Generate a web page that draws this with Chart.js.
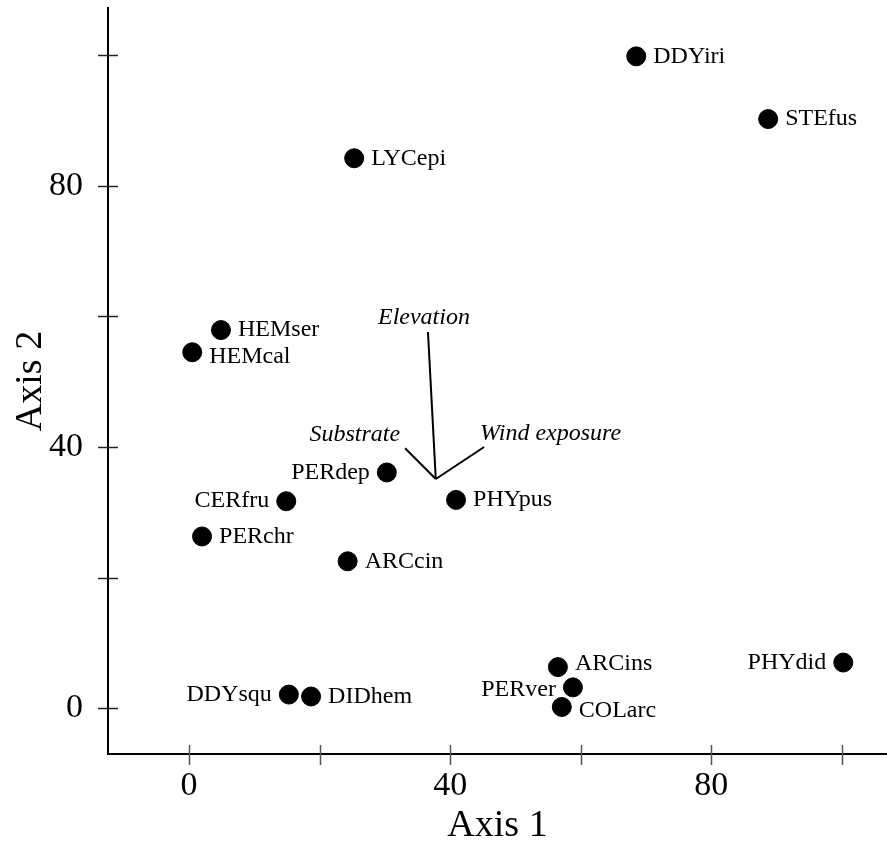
<!DOCTYPE html>
<html>
<head>
<meta charset="utf-8">
<script src="https://cdn.jsdelivr.net/npm/chart.js@4.4.1/dist/chart.umd.min.js"></script>
<style>
  html, body { margin: 0; padding: 0; background: #fff; }
  canvas { display: block; }
</style>
</head>
<body>
<canvas id="chart" width="887" height="845"></canvas>
<script>
// species scores on the two ordination axes
const species = ['DDYiri', 'STEfus', 'LYCepi', 'HEMser', 'HEMcal', 'PERdep', 'CERfru', 'PHYpus',
  'PERchr', 'ARCcin', 'ARCins', 'PERver', 'COLarc', 'PHYdid', 'DDYsqu', 'DIDhem'];
const axis1 = [68.5, 88.7, 25.3, 4.9, 0.5, 30.3, 14.9, 40.9, 2.0, 24.3, 56.5, 58.8, 57.1, 100.2, 15.3, 18.7];
const axis2 = [99.8, 90.2, 84.2, 57.9, 54.5, 36.1, 31.7, 31.9, 26.3, 22.5, 6.3, 3.2, 0.2, 7.0, 2.1, 1.8];

// environmental vectors (biplot), all starting from one origin
const vectorNames = ['Elevation', 'Substrate', 'Wind exposure'];
const vectorOrigin = [37.8, 35.1];
const vectorX = [36.6, 33.1, 45.2];
const vectorY = [57.6, 39.8, 40.0];

const xTicks = [0, 20, 40, 60, 80, 100];
const yTicks = [0, 20, 40, 60, 80, 100];
const xTickLabels = [0, 40, 80];
const yTickLabels = [0, 40, 80];

// label placement: side of the point and vertical nudge in px
const labelSide = ['r', 'r', 'r', 'r', 'r', 'l', 'l', 'r', 'r', 'r', 'r', 'l', 'r', 'l', 'l', 'r'];
const labelNudge = [0, 0, 0, 0, 4, 0, 0, 0, 0, 0, -3, 2, 4, 0, 0, 0];

const serif = '"Liberation Serif", "Times New Roman", serif';

const tickMarks = {
  id: 'tickMarks',
  afterDraw(chart) {
    const { ctx, scales: { x, y } } = chart;
    ctx.save();
    ctx.strokeStyle = '#555';
    ctx.lineWidth = 1.5;
    x.ticks.forEach(t => {
      const px = Math.round(x.getPixelForValue(t.value)) + 0.5;
      ctx.beginPath();
      ctx.moveTo(px, y.bottom - 9);
      ctx.lineTo(px, y.bottom + 11);
      ctx.stroke();
    });
    ctx.strokeStyle = '#222';
    y.ticks.forEach(t => {
      const py = Math.round(y.getPixelForValue(t.value)) + 0.5;
      ctx.beginPath();
      ctx.moveTo(x.left - 10, py);
      ctx.lineTo(x.left + 10, py);
      ctx.stroke();
    });
    ctx.restore();
  }
};

const textLabels = {
  id: 'textLabels',
  afterDatasetsDraw(chart) {
    const ctx = chart.ctx;
    ctx.save();
    ctx.fillStyle = '#000';
    ctx.textBaseline = 'middle';

    ctx.font = '24px ' + serif;
    chart.getDatasetMeta(0).data.forEach((pt, i) => {
      const gap = 17;
      if (labelSide[i] === 'l') {
        ctx.textAlign = 'right';
        ctx.fillText(species[i], pt.x - gap, pt.y + labelNudge[i]);
      } else {
        ctx.textAlign = 'left';
        ctx.fillText(species[i], pt.x + gap, pt.y + labelNudge[i]);
      }
    });

    ctx.font = 'italic 24px ' + serif;
    vectorNames.forEach((name, i) => {
      const end = chart.getDatasetMeta(i + 1).data[1];
      if (i === 0) {
        ctx.textAlign = 'center';
        ctx.fillText(name, end.x - 4, end.y - 14);
      } else if (i === 1) {
        ctx.textAlign = 'right';
        ctx.fillText(name, end.x - 5, end.y - 14);
      } else {
        ctx.textAlign = 'left';
        ctx.fillText(name, end.x - 4, end.y - 13);
      }
    });
    ctx.restore();
  }
};

const vectorSets = vectorNames.map((name, i) => ({
  type: 'line',
  label: name,
  data: [{ x: vectorOrigin[0], y: vectorOrigin[1] }, { x: vectorX[i], y: vectorY[i] }],
  borderColor: '#000',
  borderWidth: 2,
  pointRadius: 0,
  fill: false
}));

const chart = new Chart(document.getElementById('chart'), {
  type: 'scatter',
  data: {
    datasets: [{
      label: 'Species',
      data: species.map((s, i) => ({ x: axis1[i], y: axis2[i] })),
      backgroundColor: '#000',
      borderColor: '#000',
      pointRadius: 9.5,
      pointHoverRadius: 9.5
    }, ...vectorSets]
  },
  options: {
    responsive: false,
    animation: false,
    layout: { padding: { top: 8, right: 0, left: 0, bottom: 0 } },
    plugins: {
      legend: { display: false },
      tooltip: { enabled: false }
    },
    scales: {
      x: {
        type: 'linear',
        min: -12.4,
        max: 106.9,
        afterBuildTicks: s => { s.ticks = xTicks.map(v => ({ value: v })); },
        afterFit: s => { s.height = 91; s.paddingLeft = 0; s.paddingRight = 0; },
        grid: { display: false, drawTicks: false },
        border: { display: true, color: '#000', width: 2 },
        ticks: {
          padding: 15,
          color: '#000',
          font: { family: serif, size: 34, lineHeight: 1 },
          callback: v => xTickLabels.includes(v) ? String(v) : ''
        },
        title: {
          display: true,
          text: 'Axis 1',
          color: '#000',
          padding: 0,
          font: { family: serif, size: 38, lineHeight: 1 }
        }
      },
      y: {
        type: 'linear',
        min: -7.0,
        max: 107.2,
        afterBuildTicks: s => { s.ticks = yTicks.map(v => ({ value: v })); },
        afterFit: s => { s.width = 108; s.paddingTop = 0; s.paddingBottom = 0; },
        grid: { display: false, drawTicks: false },
        border: { display: true, color: '#000', width: 2 },
        ticks: {
          padding: 25,
          color: '#000',
          font: { family: serif, size: 34, lineHeight: 1 },
          callback: v => yTickLabels.includes(v) ? String(v) : ''
        },
        title: {
          display: true,
          text: 'Axis 2',
          color: '#000',
          padding: { top: 12, bottom: 0 },
          font: { family: serif, size: 38, lineHeight: 1 }
        }
      }
    }
  },
  plugins: [tickMarks, textLabels]
});

// the point radius otherwise reserves a margin on the right; the axis runs to the edge
chart.data.datasets.forEach((d, i) => {
  chart.getDatasetMeta(i).controller.getMaxOverflow = () => 0;
});
chart.update();
</script>
</body>
</html>
